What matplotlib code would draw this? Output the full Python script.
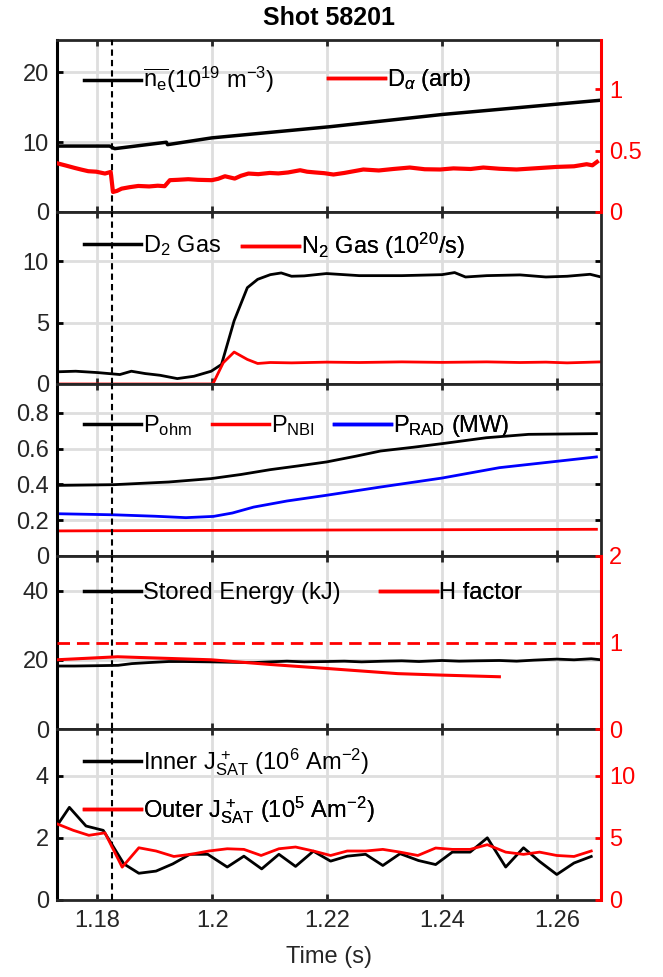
import numpy as np
import matplotlib
matplotlib.use('Agg')
import matplotlib.pyplot as plt
from matplotlib.lines import Line2D

plt.rcParams['font.family'] = ['Liberation Sans', 'DejaVu Sans']
plt.rcParams['mathtext.fontset'] = 'custom'
plt.rcParams['mathtext.rm'] = 'Liberation Sans'
plt.rcParams['mathtext.it'] = 'Liberation Sans:italic'
plt.rcParams['mathtext.bf'] = 'Liberation Sans:bold'

# ---- data ----
t_ne = [1.1731, 1.1821, 1.1830, 1.1920, 1.1922, 1.1999, 1.2205, 1.2402, 1.2673]
ne = [9.43, 9.43, 9.06, 9.98, 9.63, 10.6, 12.2, 13.96, 15.96]

t_da = [1.1731, 1.1745, 1.1760, 1.1772, 1.1784, 1.1798, 1.1813, 1.1823, 1.1827, 1.1834,
        1.1842, 1.1856, 1.1871, 1.1890, 1.1905, 1.1917, 1.1926, 1.1940, 1.1958, 1.1975,
        1.1999, 1.2010, 1.2022, 1.2039, 1.2050, 1.2063, 1.2080, 1.2100, 1.2115, 1.2132,
        1.2153, 1.2165, 1.2179, 1.2195, 1.2211, 1.2230, 1.2263, 1.2290, 1.2315, 1.2344,
        1.2370, 1.2397, 1.2420, 1.2450, 1.2472, 1.2500, 1.2530, 1.2560, 1.2600, 1.2630,
        1.2652, 1.2662, 1.2670]
d_alpha = [0.395, 0.378, 0.359, 0.345, 0.332, 0.328, 0.313, 0.326, 0.163, 0.172,
           0.190, 0.202, 0.212, 0.208, 0.214, 0.210, 0.259, 0.262, 0.267, 0.262,
           0.259, 0.270, 0.291, 0.272, 0.295, 0.313, 0.308, 0.318, 0.314, 0.322,
           0.340, 0.328, 0.322, 0.316, 0.305, 0.318, 0.346, 0.338, 0.350, 0.362,
           0.348, 0.346, 0.355, 0.350, 0.362, 0.352, 0.346, 0.355, 0.367, 0.372,
           0.389, 0.380, 0.408]

t_d2 = [1.1728, 1.1762, 1.1800, 1.1839, 1.1859, 1.1883, 1.1909, 1.1939, 1.1968, 1.1998,
        1.2016, 1.2038, 1.2061, 1.2079, 1.2101, 1.2120, 1.2138, 1.2160, 1.2199, 1.2256,
        1.2330, 1.2400, 1.2422, 1.2441, 1.2478, 1.2536, 1.2581, 1.2618, 1.2658, 1.2677]
d2_gas = [0.99, 1.04, 0.93, 0.77, 1.04, 0.85, 0.71, 0.44, 0.63, 1.04,
          1.59, 5.15, 7.84, 8.52, 8.90, 9.04, 8.77, 8.80, 8.99, 8.82,
          8.82, 8.90, 9.07, 8.71, 8.82, 8.88, 8.71, 8.77, 8.93, 8.71]

t_n2 = [1.1728, 1.2001, 1.2019, 1.2038, 1.2061, 1.2079, 1.2101, 1.2138, 1.2199, 1.2256,
        1.2330, 1.2400, 1.2478, 1.2536, 1.2581, 1.2618, 1.2677]
n2_gas = [0.0, 0.0, 1.73, 2.60, 2.00, 1.67, 1.75, 1.72, 1.78, 1.75,
          1.80, 1.76, 1.80, 1.75, 1.78, 1.72, 1.80]

t_ohm = [1.1728, 1.1828, 1.1924, 1.1998, 1.2050, 1.2101, 1.2150, 1.2199, 1.2250, 1.2293,
         1.2350, 1.2400, 1.2477, 1.2551, 1.2669]
p_ohm = [0.394, 0.398, 0.413, 0.432, 0.455, 0.482, 0.503, 0.525, 0.557, 0.586,
         0.607, 0.627, 0.660, 0.679, 0.683]
t_nbi = [1.1728, 1.2200, 1.2669]
p_nbi = [0.140, 0.145, 0.149]
t_rad = [1.1728, 1.1828, 1.1900, 1.1954, 1.2002, 1.2035, 1.2072, 1.2130, 1.2199, 1.2293,
         1.2400, 1.2500, 1.2669]
p_rad = [0.236, 0.230, 0.222, 0.214, 0.221, 0.240, 0.273, 0.307, 0.339, 0.385,
         0.435, 0.493, 0.553]

t_we = [1.1728, 1.1760, 1.1800, 1.1836, 1.1860, 1.1890, 1.1924, 1.1950, 1.1998, 1.2030,
        1.2072, 1.2100, 1.2130, 1.2160, 1.2199, 1.2230, 1.2260, 1.2300, 1.2330, 1.2360,
        1.2400, 1.2430, 1.2460, 1.2500, 1.2530, 1.2560, 1.2600, 1.2630, 1.2660, 1.2677]
w_stored = [18.2, 18.2, 18.3, 18.4, 18.9, 19.2, 19.5, 19.5, 19.4, 19.3,
            19.2, 19.4, 19.6, 19.4, 19.5, 19.6, 19.4, 19.6, 19.7, 19.5,
            19.8, 19.6, 19.7, 19.8, 19.6, 19.9, 20.2, 20.0, 20.3, 20.0]
t_h = [1.1728, 1.1835, 1.1998, 1.2101, 1.2199, 1.2323, 1.2400, 1.2500]
h_factor = [0.80, 0.835, 0.80, 0.746, 0.70, 0.64, 0.623, 0.604]

t_inner = [1.1728, 1.1751, 1.1780, 1.1810, 1.1846, 1.1872, 1.1902, 1.1931, 1.1961, 1.1992,
           1.2026, 1.2055, 1.2086, 1.2116, 1.2145, 1.2176, 1.2206, 1.2235, 1.2267, 1.2297,
           1.2327, 1.2359, 1.2389, 1.2418, 1.2449, 1.2479, 1.2511, 1.2542, 1.2570, 1.2600,
           1.2630, 1.2660]
j_inner = [2.35, 2.98, 2.38, 2.24, 1.16, 0.86, 0.93, 1.16, 1.47, 1.47,
           1.06, 1.41, 1.00, 1.47, 1.08, 1.57, 1.25, 1.41, 1.47, 1.11,
           1.49, 1.27, 1.14, 1.54, 1.54, 2.00, 1.06, 1.68, 1.24, 0.82,
           1.19, 1.40]
t_outer = [1.1728, 1.1758, 1.1785, 1.1813, 1.1843, 1.1872, 1.1902, 1.1933, 1.1962, 1.1994,
           1.2026, 1.2055, 1.2085, 1.2116, 1.2145, 1.2176, 1.2206, 1.2235, 1.2267, 1.2297,
           1.2327, 1.2358, 1.2389, 1.2418, 1.2449, 1.2479, 1.2511, 1.2542, 1.2570, 1.2600,
           1.2630, 1.2660]
j_outer = [6.15, 5.60, 5.20, 5.40, 2.64, 4.20, 3.94, 3.50, 3.67, 3.94,
           4.12, 4.07, 3.58, 4.12, 4.26, 3.94, 3.58, 3.94, 3.94, 4.07,
           3.85, 3.58, 4.18, 4.07, 4.07, 4.45, 3.85, 3.67, 3.85, 3.58,
           3.50, 3.94]

t_event = 1.1826
xticks = [1.18, 1.2, 1.22, 1.24, 1.26]
xtick_labels = ['1.18', '1.2', '1.22', '1.24', '1.26']

# ---- layout ----
W, H = 663, 977
fig = plt.figure(figsize=(W / 100, H / 100), dpi=100)
left_px, right_px = 57.3, 601.0
edges = [40, 212, 384, 556, 729, 900]
FS = 17
DARK = '#262626'
RED = '#ff0000'
BLUE = '#0000ff'

axes = []
for i in range(5):
    top, bot = edges[i], edges[i + 1]
    ax = fig.add_axes([left_px / W, 1 - bot / H, (right_px - left_px) / W, (bot - top) / H])
    ax.set_xlim(1.1730, 1.2677)
    ax.set_xticks(xticks)
    ax.set_xticklabels(xtick_labels)
    ax.grid(True, color='#dedede', lw=2)
    ax.set_axisbelow(True)
    ax.tick_params(direction='in', length=4, width=2, labelsize=FS, colors=DARK,
                   top=True, right=True, labelbottom=(i == 4), pad=7)
    ax.tick_params(axis='y', colors='black', labelcolor=DARK, pad=6)
    for s in ['top', 'bottom', 'right']:
        ax.spines[s].set_color(DARK)
        ax.spines[s].set_linewidth(2)
    ax.spines['left'].set_color('black')
    ax.spines['left'].set_linewidth(2.2)
    ax.axvline(t_event, color='black', lw=1.5, ls=(0, (3, 2)), zorder=5)
    axes.append(ax)


def twin(ax, lim, ticks, labels):
    tw = ax.twinx()
    tw.set_ylim(*lim)
    tw.set_yticks(ticks)
    tw.set_yticklabels(labels)
    tw.tick_params(direction='in', length=4, width=2, labelsize=FS, colors=RED, pad=6)
    tw.spines['right'].set_color(RED)
    tw.spines['right'].set_linewidth(2.2)
    for s in ['top', 'bottom', 'left']:
        tw.spines[s].set_visible(False)
    ax.tick_params(right=False)
    return tw


def leg(ax, color, label, x_px, y_px, top, bot):
    h = Line2D([], [], color=color, lw=2.5)
    xf = (x_px - left_px) / (right_px - left_px)
    yf = (bot - y_px) / (bot - top)
    lg = ax.legend([h], [label], loc='center left', bbox_to_anchor=(xf, yf),
                   frameon=False, borderpad=0, borderaxespad=0, handlelength=2.42,
                   handletextpad=0.06, fontsize=FS)
    ax.add_artist(lg)


# panel 1
ax = axes[0]
ax.set_ylim(0, 24.6)
ax.set_yticks([0, 10, 20])
ax.plot(t_ne, ne, color='black', lw=2.5)
tw1 = twin(ax, (0, 1.4), [0, 0.5, 1], ['0', '0.5', '1'])
tw1.plot(t_da, d_alpha, color=RED, lw=3)
leg(tw1, 'black', r'$\overline{\mathrm{n}_\mathrm{e}}$(10$^{19}$ m$^{-3}$)', 84, 80, 40, 212)
leg(tw1, RED, r'D$_\alpha$ (arb)', 328, 80, 40, 212)

# panel 2
ax = axes[1]
ax.set_ylim(0, 14)
ax.set_yticks([0, 5, 10])
ax.plot(t_d2, d2_gas, color='black', lw=2)
ax.plot(t_n2, n2_gas, color=RED, lw=2)
leg(ax, 'black', r'D$_2$ Gas', 84, 246, 212, 384)
leg(ax, RED, r'N$_2$ Gas (10$^{20}$/s)', 242, 246, 212, 384)

# panel 3
ax = axes[2]
ax.set_ylim(0, 0.96)
ax.set_yticks([0, 0.2, 0.4, 0.6, 0.8])
ax.set_yticklabels(['0', '0.2', '0.4', '0.6', '0.8'])
ax.plot(t_ohm, p_ohm, color='black', lw=2)
ax.plot(t_nbi, p_nbi, color=RED, lw=2)
ax.plot(t_rad, p_rad, color=BLUE, lw=2)
leg(ax, 'black', r'P$_{\mathrm{ohm}}$', 84, 426, 384, 556)
leg(ax, RED, r'P$_{\mathrm{NBI}}$', 212, 426, 384, 556)
leg(ax, BLUE, r'P$_{\mathrm{RAD}}$ (MW)', 334, 426, 384, 556)

# panel 4
ax = axes[3]
ax.set_ylim(0, 50)
ax.set_yticks([0, 20, 40])
ax.plot(t_we, w_stored, color='black', lw=2)
tw4 = twin(ax, (0, 2), [0, 1, 2], ['0', '1', '2'])
tw4.axhline(1, color=RED, lw=2, ls=(0, (4.5, 2.5)))
tw4.plot(t_h, h_factor, color=RED, lw=2.2)
leg(tw4, 'black', 'Stored Energy (kJ)', 84, 593, 556, 729)
leg(tw4, RED, 'H factor', 380, 593, 556, 729)

# panel 5
ax = axes[4]
ax.set_ylim(0, 5.5)
ax.set_yticks([0, 2, 4])
ax.plot(t_inner, j_inner, color='black', lw=2)
tw5 = twin(ax, (0, 13.75), [0, 5, 10], ['0', '5', '10'])
tw5.plot(t_outer, j_outer, color=RED, lw=2)
leg(tw5, 'black', r'Inner J$^{\,+}_{\mathrm{SAT}}$ (10$^6$ Am$^{-2}$)', 84, 762, 729, 900)
leg(tw5, RED, r'Outer J$^{\,+}_{\mathrm{SAT}}$ (10$^5$ Am$^{-2}$)', 84, 810, 729, 900)

fig.text((left_px + right_px) / 2 / W, 1 - 18 / H, 'Shot 58201', ha='center', va='center',
         fontsize=18, fontweight='bold')
fig.text((left_px + right_px) / 2 / W, 1 - 957 / H, 'Time (s)', ha='center', va='center',
         fontsize=FS, color=DARK)

fig.savefig('out.png', dpi=100)
